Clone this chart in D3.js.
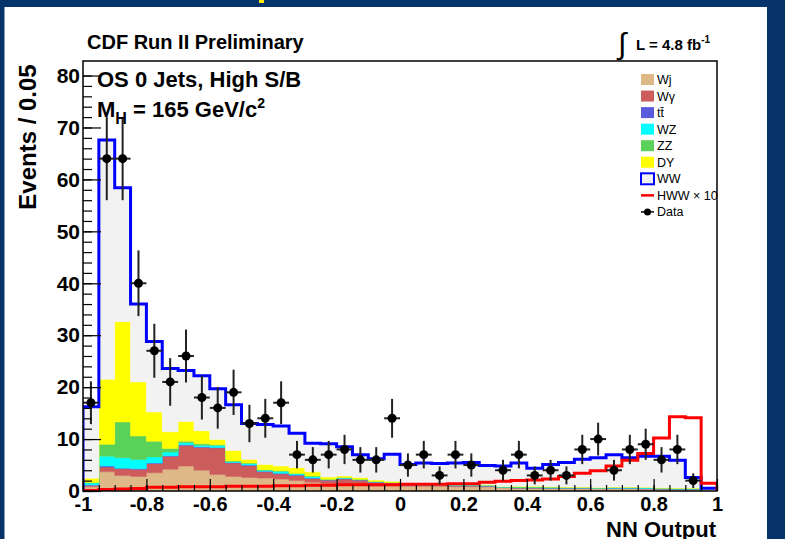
<!DOCTYPE html>
<html>
<head>
<meta charset="utf-8">
<script src="https://cdn.jsdelivr.net/npm/d3@7"></script>
<style>
  body { margin: 0; background: #fff; }
  svg { display: block; }
  text { font-family: "Liberation Sans", Arial, Helvetica, sans-serif; }
</style>
</head>
<body>
<div id="chart"></div>
<script>
// CDF WW -> H NN output, OS 0 jets high S/B, stacked backgrounds + data

// Bin contents, 40 bins of width 0.05 from -1 to 1
const wj = [0.8, 3.7, 3.0, 2.8, 3.5, 4.2, 4.8, 4.0, 3.2, 2.8, 2.6, 2.5, 2.3, 2.0, 1.7, 1.4, 1.2, 1.1, 1.0, 1.0,
            0.9, 0.9, 0.9, 0.85, 0.85, 0.8, 0.6, 0.5, 0.5, 0.45, 0.45, 0.45, 0.4, 0.4, 0.4, 0.35, 0.35, 0.3, 0.3, 0.05];
const wgamma = [0.3, 0.9, 1.3, 1.4, 1.8, 2.5, 4.0, 4.4, 5.1, 2.6, 2.3, 1.2, 1.0, 1.0, 0.7, 0.7, 1.1, 1.0, 0.7, 0.5,
            0.25, 0.2, 0.2, 0.15, 0.15, 0.15, 0.1, 0.1, 0.1, 0.1, 0.1, 0.1, 0.1, 0.1, 0.1, 0.1, 0.05, 0.05, 0.05, 0.02];
const ttbar = [0.05, 0.2, 0.1, 0.1, 0.1, 0.1, 0.1, 0.1, 0.1, 0.1, 0.1, 0.1, 0.1, 0.1, 0.1, 0.05, 0.1, 0.05, 0.05, 0.05,
            0.02, 0.02, 0.02, 0.02, 0.02, 0.02, 0.02, 0.02, 0.02, 0.02, 0.02, 0.02, 0.02, 0.02, 0.02, 0.02, 0.02, 0.02, 0.02, 0];
const wz = [0.4, 1.9, 2.0, 1.75, 1.15, 0.7, 0.4, 0.3, 0.4, 0.2, 0.3, 0.2, 0.4, 0.2, 0.3, 0.05, 0.1, 0.05, 0.05, 0.05,
            0.05, 0.05, 0.05, 0.15, 0.15, 0.15, 0.05, 0.05, 0.05, 0.05, 0.05, 0.05, 0.05, 0.15, 0.15, 0.15, 0.05, 0.05, 0.05, 0.02];
const zz = [0.1, 2.3, 6.9, 4.55, 3.05, 0.7, 0.3, 0.3, 0.1, 0.1, 0.1, 0.1, 0.1, 0.1, 0.1, 0.05, 0.1, 0.05, 0.05, 0.05,
            0.03, 0.03, 0.03, 0.03, 0.03, 0.03, 0.05, 0.15, 0.15, 0.15, 0.1, 0.1, 0.05, 0.05, 0.05, 0.05, 0.1, 0.1, 0.1, 0.02];
const dyell = [0.8, 12.5, 19.3, 10.4, 5.6, 3.2, 3.8, 2.5, 1.0, 2.0, 0.7, 1.0, 0.9, 1.1, 0.8, 0.45, 0.3, 0.35, 0.25, 0.25,
            0.1, 0.05, 0.05, 0.05, 0.05, 0.05, 0.05, 0.1, 0.1, 0.05, 0.05, 0.05, 0.05, 0.05, 0.05, 0.05, 0.05, 0.05, 0.05, 0.02];
const ww = [13.75, 46.1, 25.8, 15.0, 13.6, 12.2, 9.8, 10.6, 9.8, 8.8, 6.9, 7.7, 7.7, 6.6, 5.5, 6.4, 5.6, 4.4, 4.1, 5.2,
            3.75, 4.15, 4.05, 4.15, 4.25, 3.7, 3.93, 4.48, 3.48, 4.28, 4.73, 5.33, 5.73, 6.23, 5.63, 5.98, 6.08, 5.33, 2.03, 0.39];
// signal x10
const hww = [0.1, 0.3, 0.4, 0.5, 0.7, 0.7, 0.8, 0.8, 0.8, 0.9, 0.9, 0.9, 1.0, 1.0, 1.1, 1.1, 1.2, 1.2, 1.2, 1.2,
            1.3, 1.3, 1.3, 1.4, 1.4, 1.7, 1.9, 2.0, 2.1, 2.3, 2.8, 3.4, 3.9, 4.8, 5.9, 7.2, 10.2, 14.3, 14.1, 1.5];
// observed events (0 = not drawn)
const data = [17, 64, 64, 40, 27, 21, 26, 18, 16, 19, 13, 14, 17, 7, 6, 7, 8, 6, 6, 14,
              5, 7, 3, 7, 5, 0, 4, 7, 3, 4, 3, 8, 10, 4, 8, 9, 6, 8, 2, 0];

const xTicks = [-1, -0.8, -0.6, -0.4, -0.2, 0, 0.2, 0.4, 0.6, 0.8, 1];
const yTicks = [0, 10, 20, 30, 40, 50, 60, 70, 80];

const keys = ['wj', 'wgamma', 'ttbar', 'wz', 'zz', 'dyell', 'ww'];
const fills = ['#deb887', '#cd5c5c', '#5a5adc', '#00ffff', '#5ad25a', '#ffff00', '#f2f2f2'];
const legendLabels = ['Wj', 'W\u03b3', 'tt\u0304', 'WZ', 'ZZ', 'DY', 'WW', 'HWW \u00d7 10', 'Data'];

// Layout
const W = 785, H = 539;
const plot = { left: 83, right: 717, top: 61, bottom: 491 };
const binW = 0.05;

const svg = d3.select('#chart').append('svg')
    .attr('width', W)
    .attr('height', H);

// slide background strips
svg.append('rect').attr('width', W).attr('height', H).attr('fill', '#fff');
svg.append('rect').attr('x', 0).attr('y', 0).attr('width', W).attr('height', 7).attr('fill', '#06346a');
svg.append('rect').attr('x', 0).attr('y', 0).attr('width', 4.5).attr('height', H).attr('fill', '#06346a');
svg.append('rect').attr('x', 767).attr('y', 0).attr('width', W - 767).attr('height', H).attr('fill', '#06346a');
svg.append('rect').attr('x', 259).attr('y', 0).attr('width', 5).attr('height', 3).attr('fill', '#ffea00');

const x = d3.scaleLinear().domain([-1, 1]).range([plot.left, plot.right]);
const y = d3.scaleLinear().domain([0, 82.8]).range([plot.bottom, plot.top]);

svg.append('clipPath').attr('id', 'clip')
    .append('rect')
    .attr('x', plot.left).attr('y', plot.top)
    .attr('width', plot.right - plot.left).attr('height', plot.bottom - plot.top);

const g = svg.append('g').attr('clip-path', 'url(#clip)');

// Stack
const rows = wj.map((_, i) => ({
    i, wj: wj[i], wgamma: wgamma[i], ttbar: ttbar[i], wz: wz[i], zz: zz[i], dyell: dyell[i], ww: ww[i]
}));
const stacked = d3.stack().keys(keys)(rows);

const area = d3.area()
    .x(p => x(p.x))
    .y0(p => y(p.y0))
    .y1(p => y(p.y1))
    .curve(d3.curveStepAfter);

stacked.forEach((s, k) => {
    const pts = s.map((d, i) => ({ x: -1 + i * binW, y0: d[0], y1: d[1] }));
    const last = s[s.length - 1];
    pts.push({ x: 1, y0: last[0], y1: last[1] });
    g.append('path')
        .attr('d', area(pts))
        .attr('fill', fills[k])
        .attr('stroke', fills[k])
        .attr('stroke-width', 0.5);
});

// step outline helper
const line = d3.line().x(p => x(p.x)).y(p => y(p.y)).curve(d3.curveStepAfter);
function stepPoints(vals) {
    const pts = [{ x: -1, y: 0 }];
    vals.forEach((v, i) => pts.push({ x: -1 + i * binW, y: v }));
    pts.push({ x: 1, y: vals[vals.length - 1] });
    pts.push({ x: 1, y: 0 });
    return pts;
}

const totals = stacked[stacked.length - 1].map(d => d[1]);
g.append('path')
    .attr('d', line(stepPoints(totals)))
    .attr('fill', 'none')
    .attr('stroke', '#0000ff')
    .attr('stroke-width', 3);

g.append('path')
    .attr('d', line(stepPoints(hww)))
    .attr('fill', 'none')
    .attr('stroke', '#ff0000')
    .attr('stroke-width', 3);

// Data with poisson errors
const pts = data.map((n, i) => ({ n, c: -1 + (i + 0.5) * binW, lo: -1 + i * binW, hi: -1 + (i + 1) * binW }))
    .filter(d => d.n > 0);

const dg = g.append('g');
dg.selectAll('.ev').data(pts).enter().append('line')
    .attr('x1', d => x(d.c)).attr('x2', d => x(d.c))
    .attr('y1', d => y(d.n - Math.sqrt(d.n))).attr('y2', d => y(d.n + Math.sqrt(d.n)))
    .attr('stroke', '#222').attr('stroke-width', 2);
dg.selectAll('.eh').data(pts).enter().append('line')
    .attr('x1', d => x(d.lo)).attr('x2', d => x(d.hi))
    .attr('y1', d => y(d.n)).attr('y2', d => y(d.n))
    .attr('stroke', '#222').attr('stroke-width', 2);
dg.selectAll('circle').data(pts).enter().append('circle')
    .attr('cx', d => x(d.c)).attr('cy', d => y(d.n))
    .attr('r', 4.5).attr('fill', '#000');

// Axes
const fmt = d => String(+d.toFixed(2));

const xMinor = svg.append('g')
    .attr('transform', `translate(0,${plot.bottom})`)
    .call(d3.axisBottom(x).ticks(40).tickSize(-6).tickFormat(''));
const xMajor = svg.append('g')
    .attr('transform', `translate(0,${plot.bottom})`)
    .call(d3.axisBottom(x).tickValues(xTicks).tickSize(-12).tickPadding(6).tickFormat(fmt));

const yMinor = svg.append('g')
    .attr('transform', `translate(${plot.left},0)`)
    .call(d3.axisLeft(y).tickValues(d3.range(0, 82, 2)).tickSize(-9).tickFormat(''));
const yMajor = svg.append('g')
    .attr('transform', `translate(${plot.left},0)`)
    .call(d3.axisLeft(y).tickValues(yTicks).tickSize(-18).tickPadding(3).tickFormat(fmt));

[xMinor, xMajor, yMinor, yMajor].forEach(a => {
    a.select('.domain').remove();
    a.selectAll('line').attr('stroke', '#000').attr('stroke-width', 1.2);
});
xMajor.selectAll('text').attr('font-size', 20).attr('font-weight', 'bold').attr('fill', '#000');
yMajor.selectAll('text').attr('font-size', 21).attr('font-weight', 'bold').attr('fill', '#000');

// Frame
svg.append('rect')
    .attr('x', plot.left).attr('y', plot.top)
    .attr('width', plot.right - plot.left).attr('height', plot.bottom - plot.top)
    .attr('fill', 'none').attr('stroke', '#000').attr('stroke-width', 1.5);

// Axis titles
svg.append('text')
    .attr('x', 716).attr('y', 537)
    .attr('text-anchor', 'end')
    .attr('font-size', 22).attr('font-weight', 'bold')
    .text('NN Output');

svg.append('text')
    .attr('transform', 'translate(36,137) rotate(-90)')
    .attr('text-anchor', 'middle')
    .attr('font-size', 24).attr('font-weight', 'bold')
    .text('Events / 0.05');

// Header texts
svg.append('text')
    .attr('x', 87).attr('y', 49)
    .attr('font-size', 20).attr('font-weight', 'bold')
    .text('CDF Run II Preliminary');

svg.append('text')
    .attr('x', 618).attr('y', 54)
    .attr('font-family', 'DejaVu Sans')
    .attr('font-size', 30)
    .text('\u222b');
const lumi = svg.append('text')
    .attr('x', 636).attr('y', 50)
    .attr('font-size', 15).attr('font-weight', 'bold');
lumi.append('tspan').text('L = 4.8 fb');
lumi.append('tspan').attr('dy', -7).attr('font-size', 10).text('-1');

svg.append('text')
    .attr('x', 97).attr('y', 87)
    .attr('font-size', 22).attr('font-weight', 'bold')
    .text('OS 0 Jets, High S/B');

const mh = svg.append('text')
    .attr('x', 97).attr('y', 117)
    .attr('font-size', 22).attr('font-weight', 'bold');
mh.append('tspan').text('M');
mh.append('tspan').attr('dy', 7).attr('font-size', 16).text('H');
mh.append('tspan').attr('dy', -7).text(' = 165 GeV/c');
mh.append('tspan').attr('dy', -9).attr('font-size', 14).text('2');

// Legend
const lg = svg.append('g');
const lx = 641, ly0 = 79.5, lstep = 16.55;
legendLabels.forEach((lab, i) => {
    const cy = ly0 + i * lstep;
    if (i < 7) {
        lg.append('rect')
            .attr('x', lx).attr('y', cy - 5.5)
            .attr('width', 13).attr('height', 11)
            .attr('fill', fills[i])
            .attr('stroke', i === 6 ? '#0000ff' : 'none')
            .attr('stroke-width', 2);
    } else if (i === 7) {
        lg.append('line')
            .attr('x1', lx).attr('x2', lx + 13).attr('y1', cy).attr('y2', cy)
            .attr('stroke', '#ff0000').attr('stroke-width', 2.5);
    } else {
        lg.append('line')
            .attr('x1', lx).attr('x2', lx + 13).attr('y1', cy).attr('y2', cy)
            .attr('stroke', '#000').attr('stroke-width', 1.5);
        lg.append('circle').attr('cx', lx + 6.5).attr('cy', cy).attr('r', 3.5).attr('fill', '#000');
    }
    lg.append('text')
        .attr('x', lx + 16).attr('y', cy + 4.5)
        .attr('font-size', 12.5)
        .text(lab);
});
</script>
</body>
</html>
